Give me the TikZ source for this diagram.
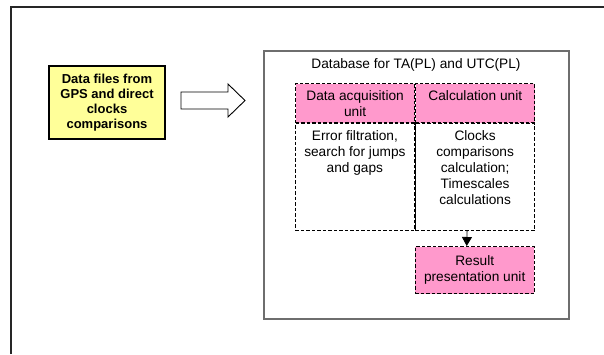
\documentclass[tikz,border=0pt]{standalone}
\usepackage{fontspec}
\setmainfont{Liberation Sans}
\usepackage{xcolor}
\usepackage{tikz}
\usetikzlibrary{positioning, arrows.meta}
\definecolor{notepad}{RGB}{255,255,153}
\definecolor{unitpink}{RGB}{255,153,204}
\definecolor{framegray}{RGB}{110,110,110}

\begin{document}
\begin{tikzpicture}[x=1pt, y=-1pt, node distance={0pt},
source/.style = {draw, line width=1.4pt, fill=notepad, inner sep=0pt, minimum width=116pt, minimum height=73pt, align=center, font=\fontsize{13}{15}\selectfont\bfseries},
unit/.style = {draw, dashed, line width=1.2pt, dash pattern=on 3.5pt off 2pt, fill=unitpink, inner sep=1pt, minimum width=119pt, align=center, anchor=north west, font=\fontsize{13.7}{16}\selectfont},
task/.style = {draw, line width=0.8pt, dash pattern=on 3.5pt off 2pt, inner sep=0pt, minimum width=119pt, minimum height=107pt, anchor=north west},
el/.style = {inner sep=0pt, align=center, font=\fontsize{13.7}{16}\selectfont}]
\useasboundingbox (0,0) rectangle (604,354);
% page frame
\draw[line width=2pt, black!85] (11,354) -- (11,7) -- (604,7);

\node[source] (files) at (107,102.5) {Data files from\\GPS and direct\\clocks\\comparisons};
% block arrow
\draw[line width=0.9pt, fill=white, line join=miter] (181,92) -- (228,92) -- (228,84) -- (245,100.5) -- (228,117) -- (228,109) -- (181,109) -- cycle;

\node[draw=framegray, line width=1.5pt, minimum width=305pt, minimum height=268pt, anchor=north west] (db) at (263,50) {};
\node[el] (title) at (416,65) {Database for TA(PL) and UTC(PL)};

\node[unit, minimum height=39pt] (acq) at (295,83) {Data acquisition\\unit};
\node[unit, minimum height=39pt, right=of acq.north east, anchor=north west] (calc) {Calculation unit\\\mbox{}};
\node[task] (acqtask) at (acq.south west) {};
\node[task] (calctask) at (calc.south west) {};
\node[el, below=7pt of acqtask.north] (acqtext) {Error filtration,\\search for jumps\\and gaps};
\node[el, below=7pt of calctask.north] (calctext) {Clocks\\comparisons\\calculation;\\Timescales\\calculations};
\node[unit, minimum height=47pt, line width=1.4pt] (result) at (414.5,246) {Result\\presentation unit};

\draw[line width=0.6pt] (acqtask.north east) -- (acqtask.south east);
\path[-{Triangle[length=9pt, width=10pt]}, line width=0.8pt]
([xshift=-8pt]calctask.south) edge ([xshift=-8pt]result.north)
;
\end{tikzpicture}
\end{document}
